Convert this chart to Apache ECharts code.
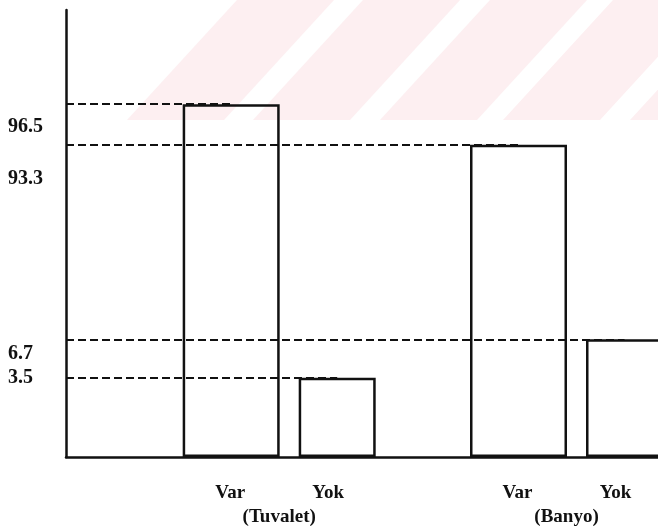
<!DOCTYPE html>
<html><head><meta charset="utf-8">
<script src="https://cdn.jsdelivr.net/npm/echarts@6/dist/echarts.min.js"></script>
<style>html,body{margin:0;padding:0;background:#fff}#c{width:658px;height:531px}</style>
</head><body><div id="c"></div>
<script>
// ---- data ----
const groups = ['(Tuvalet)', '(Banyo)'];
const barNames = ['Var', 'Yok'];
const varValues = [96.5, 93.3];
const yokValues = [3.5, 6.7];
const yTickValues = [3.5, 6.7, 93.3, 96.5];
const yTickLabels = ['3.5', '6.7', '93.3', '96.5'];

// ---- layout / style ----
const GRID_LEFT = 66;
const FONT = '"Liberation Serif", "Times New Roman", serif';
const yLabelShift = [0, 15, 34, 23];

const chart = echarts.init(document.getElementById('c'), null, {renderer: 'canvas'});

const rich = {};
yLabelShift.forEach((s, i) => {
  rich['s' + i] = {fontFamily: FONT, fontWeight: 'bold', fontSize: 20, color: '#111', padding: [2 * s, 0, 0, 0]};
});

const dash = {color: '#111', width: 2.2, type: [8, 4]};
function refLines(values) {
  return values.map((v, i) => [{x: GRID_LEFT, yAxis: v}, {coord: [i, v]}]);
}
const markLineBase = {
  silent: true,
  symbol: ['none', 'none'],
  label: {show: false},
  emphasis: {disabled: true},
  lineStyle: dash,
  animation: false
};

// faint watermark stripes of the scanned page (decoration only)
const stripeStarts = [237, 363, 490, 613, 740];
const watermark = stripeStarts.map(x0 => ({
  type: 'polygon',
  z: -10,
  silent: true,
  shape: {points: [[x0, 0], [x0 + 97, 0], [x0 + 97 - 110, 120], [x0 - 110, 120]]},
  style: {fill: '#fdeff1'}
}));

chart.setOption({
  animation: false,
  backgroundColor: '#fff',
  graphic: watermark,
  grid: {left: GRID_LEFT, right: -2, top: 10, bottom: 74, containLabel: false, outerBoundsMode: 'none'},
  xAxis: {
    type: 'value',
    min: -0.742,
    max: 1.3254,
    axisLine: {show: true, onZero: false, lineStyle: {color: '#111', width: 2.5}},
    axisTick: {show: false},
    splitLine: {show: false},
    axisLabel: {
      customValues: groups.map((g, i) => i),
      margin: 24,
      formatter: (val) => {
        const i = Math.round(val);
        return '{v|' + barNames[0] + '}{y|' + barNames[1] + '}\n{g|' + groups[i] + '}';
      },
      rich: {
        v: {width: 98, align: 'center', fontFamily: FONT, fontWeight: 'bold', fontSize: 19, color: '#111', lineHeight: 24},
        y: {width: 98, align: 'center', fontFamily: FONT, fontWeight: 'bold', fontSize: 19, color: '#111', lineHeight: 24},
        g: {align: 'center', fontFamily: FONT, fontWeight: 'bold', fontSize: 19, color: '#111', lineHeight: 24}
      }
    }
  },
  yAxis: {
    type: 'value',
    min: 0,
    max: 100.66,
    breaks: [
      {start: 4.0, end: 6.2, gap: 0.696},
      {start: 7.0, end: 93.0, gap: 7.99},
      {start: 93.6, end: 96.2, gap: 1.184}
    ],
    breakArea: {show: false, itemStyle: {opacity: 0, borderWidth: 0}, expandOnClick: false, zigzagAmplitude: 0},
    axisLine: {show: true, onZero: false, breakLine: false, lineStyle: {color: '#111', width: 2.5}},
    axisTick: {show: false},
    splitLine: {show: false},
    axisLabel: {
      customValues: yTickValues,
      align: 'left',
      margin: 58,
      formatter: (val) => {
        const i = yTickValues.indexOf(val);
        return '{s' + i + '|' + yTickLabels[i] + '}';
      },
      rich: rich
    }
  },
  series: [
    {
      type: 'bar',
      name: barNames[0],
      data: varValues.map((v, i) => [i, v]),
      barWidth: 97,
      barGap: '19.6%',
      itemStyle: {color: 'rgba(0,0,0,0)', borderColor: '#111', borderWidth: 2.5},
      emphasis: {disabled: true},
      markLine: Object.assign({data: refLines(varValues)}, markLineBase)
    },
    {
      type: 'bar',
      name: barNames[1],
      data: yokValues.map((v, i) => [i, v]),
      barWidth: 77,
      barGap: '19.6%',
      itemStyle: {color: 'rgba(0,0,0,0)', borderColor: '#111', borderWidth: 2.5},
      emphasis: {disabled: true},
      markLine: Object.assign({data: refLines(yokValues)}, markLineBase)
    }
  ]
});
</script></body></html>
